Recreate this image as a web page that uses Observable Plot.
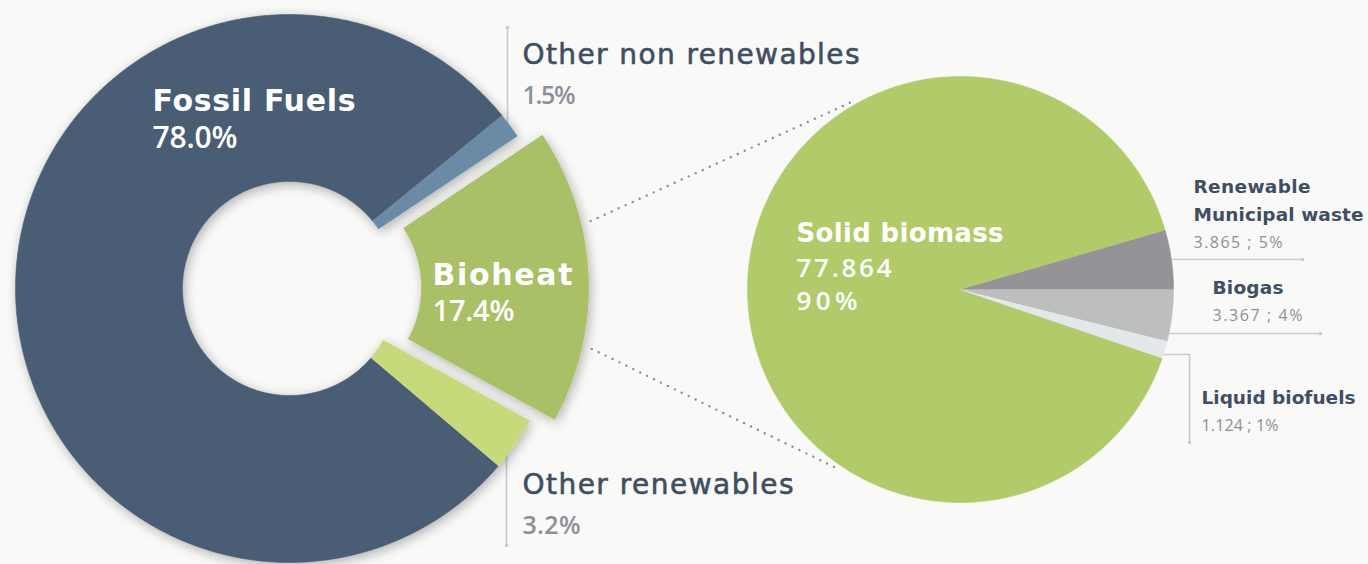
<!DOCTYPE html>
<html>
<head>
<meta charset="utf-8">
<script src="https://cdn.jsdelivr.net/npm/d3@7"></script>
<script src="https://cdn.jsdelivr.net/npm/@observablehq/plot@0.6"></script>
<style>
  html, body { margin: 0; padding: 0; background: #f9f9f7; }
  #chart { width: 1368px; height: 564px; overflow: hidden; }
</style>
</head>
<body>
<div id="chart"></div>
<script>
// ---------------- data ----------------
const donutCategories = ["Fossil Fuels", "Other non renewables", "Bioheat", "Other renewables"];
const donutShares = [78.0, 1.5, 17.4, 3.2];
const donutShareLabels = ["78.0%", "1.5%", "17.4%", "3.2%"];

const bioCategories = ["Solid biomass", "Renewable Municipal waste", "Biogas", "Liquid biofuels"];
const bioValues = [77.864, 3.865, 3.367, 1.124];
const bioValueLabels = ["77.864", "3.865", "3.367", "1.124"];
const bioShareLabels = ["90%", "5%", "4%", "1%"];

// ---------------- style / layout ----------------
const W = 1368, H = 564;
const NAME_FONT = "DejaVu Sans";
const NUM_FONT = "Open Sans";
const donutColors = ["#4a5d75", "#6b8aa6", "#a9c066", "#c6da7c"];
const bioColors = ["#b1cb6b", "#939398", "#bdbfbf", "#e3e7e9"];
const darkText = "#3f4e61", grayText = "#8c9199", leaderColor = "#c9cbce";

const donut = {cx: 289, cy: 288, r0: 107, r1: 274, explodeIndex: 2, explode: 25, focusDeg: 87.5};
const pie = {cx: 960, cy: 289, r: 213, splitDeg: 90}; // boundary between slices 1 and 2 at 3 o'clock

const rad = d => d * Math.PI / 180;
function arcPolygon(cx, cy, r0, r1, a0, a1) {
  const pts = [];
  const n = Math.max(2, Math.ceil(Math.abs(a1 - a0) * 180 / Math.PI) * 2);
  for (let i = 0; i <= n; i++) {
    const a = a0 + (a1 - a0) * i / n;
    pts.push([cx + r1 * Math.sin(a), cy - r1 * Math.cos(a)]);
  }
  if (r0 > 0) {
    for (let i = n; i >= 0; i--) {
      const a = a0 + (a1 - a0) * i / n;
      pts.push([cx + r0 * Math.sin(a), cy - r0 * Math.cos(a)]);
    }
  } else pts.push([cx, cy]);
  return pts;
}

// Donut angles: exploded slice centred on focus direction
const donutTotal = d3.sum(donutShares);
const before = d3.sum(donutShares.slice(0, donut.explodeIndex)) + donutShares[donut.explodeIndex] / 2;
const donutStart = rad(donut.focusDeg) - before / donutTotal * 2 * Math.PI;
const donutArcs = d3.pie().sort(null).startAngle(donutStart).endAngle(donutStart + 2 * Math.PI)(donutShares);

// Pie angles
const bioTotal = d3.sum(bioValues);
const pieStart = rad(pie.splitDeg) - (bioValues[0] + bioValues[1]) / bioTotal * 2 * Math.PI;
const bioArcs = d3.pie().sort(null).startAngle(pieStart).endAngle(pieStart + 2 * Math.PI)(bioValues);

// exploded bioheat centre
const ea = donutArcs[donut.explodeIndex];
const em = (ea.startAngle + ea.endAngle) / 2;
const bx = donut.cx + donut.explode * Math.sin(em), by = donut.cy - donut.explode * Math.cos(em);

const donutMarks = donutArcs.map((a, i) => {
  const ox = i === donut.explodeIndex ? bx : donut.cx;
  const oy = i === donut.explodeIndex ? by : donut.cy;
  return Plot.line(arcPolygon(ox, oy, donut.r0, donut.r1, a.startAngle, a.endAngle), {
    fill: donutColors[i], stroke: donutColors[i], strokeWidth: 0.6
  });
});
const pieMarks = bioArcs.map((a, i) =>
  Plot.line(arcPolygon(pie.cx, pie.cy, 0, pie.r, a.startAngle, a.endAngle), {
    fill: bioColors[i], stroke: bioColors[i], strokeWidth: 0.6
  })
);

// connectors from the bioheat slice to the detail pie
const polar = (cx, cy, r, deg) => [cx + r * Math.sin(rad(deg)), cy - r * Math.cos(rad(deg))];
const connectors = [
  [polar(bx, by, donut.r1 + 10, 76.5), polar(pie.cx, pie.cy, pie.r + 4, 329.4)],
  [polar(bx, by, donut.r1 + 10, 102.5), polar(pie.cx, pie.cy, pie.r + 4, 214)]
];

// leader lines
const leaders = [
  [[507, 27], [507, 140]],
  [[506, 440], [506, 545]],
  [[1150, 259], [1302, 259]],
  [[1150, 333], [1320, 333]],
  [[1150, 354], [1189, 354], [1189, 442]]
];
const leaderEnds = [[507, 27], [506, 545], [1302, 259], [1320, 333], [1189, 442]];

// label rows: text from data arrays, positions from layout
const labels = [
  {t: donutCategories[0], x: 152, y: 110, s: 30, w: 700, f: "#ffffff", ff: NAME_FONT, len: 203},
  {t: donutShareLabels[0], x: 152, y: 147, s: 30, w: 600, f: "#ffffff", ff: NUM_FONT, len: 85},
  {t: donutCategories[2], x: 432, y: 284, s: 30, w: 700, f: "#ffffff", ff: NAME_FONT, len: 140},
  {t: donutShareLabels[2], x: 432, y: 320, s: 29, w: 600, f: "#ffffff", ff: NUM_FONT, len: 82},
  {t: donutCategories[1], x: 522, y: 63, s: 28, w: 400, f: darkText, ff: NAME_FONT, len: 337, sw: 0.6},
  {t: donutShareLabels[1], x: 522, y: 103, s: 25, w: 600, f: grayText, ff: NUM_FONT, len: 53},
  {t: donutCategories[3], x: 522, y: 493, s: 28, w: 400, f: darkText, ff: NAME_FONT, len: 271, sw: 0.6},
  {t: donutShareLabels[3], x: 522, y: 533, s: 25, w: 600, f: grayText, ff: NUM_FONT, len: 58},
  {t: bioCategories[0], x: 796, y: 241, s: 26, w: 700, f: "#ffffff", ff: NAME_FONT, len: 207},
  {t: bioValueLabels[0], x: 796, y: 276, s: 26, w: 600, f: "#ffffff", ff: NUM_FONT, len: 95},
  {t: bioShareLabels[0], x: 796, y: 309, s: 26, w: 600, f: "#ffffff", ff: NUM_FONT, len: 61},
  {t: bioCategories[1].split(" ")[0], x: 1193, y: 192, s: 18.5, w: 700, f: darkText, ff: NAME_FONT, len: 117},
  {t: bioCategories[1].split(" ").slice(1).join(" "), x: 1193, y: 220, s: 18.5, w: 700, f: darkText, ff: NAME_FONT, len: 170},
  {t: `${bioValueLabels[1]} ; ${bioShareLabels[1]}`, x: 1193, y: 247, s: 16, w: 500, f: grayText, ff: NUM_FONT, len: 89},
  {t: bioCategories[2], x: 1212, y: 293, s: 18.5, w: 700, f: darkText, ff: NAME_FONT, len: 71},
  {t: `${bioValueLabels[2]} ; ${bioShareLabels[2]}`, x: 1212, y: 320, s: 16, w: 500, f: grayText, ff: NUM_FONT, len: 90},
  {t: bioCategories[3], x: 1201, y: 403, s: 18.5, w: 700, f: darkText, ff: NAME_FONT, len: 154},
  {t: `${bioValueLabels[3]} ; ${bioShareLabels[3]}`, x: 1201, y: 430, s: 16, w: 500, f: grayText, ff: NUM_FONT, len: 77}
];
const textMarks = labels.map(d => Plot.text([d], {
  x: "x", y: "y", text: "t", fontSize: d.s, fontWeight: d.w, fill: d.f,
  stroke: d.sw ? d.f : null, strokeWidth: d.sw || 0,
  fontFamily: d.ff, textAnchor: "start", lineAnchor: "bottom"
}));

const plot = Plot.plot({
  width: W, height: H, margin: 0,
  x: {domain: [0, W], range: [0, W], axis: null},
  y: {domain: [0, H], range: [0, H], axis: null},
  style: {background: "#f9f9f7", overflow: "hidden"},
  marks: [
    ...leaders.map(l => Plot.line(l, {stroke: leaderColor, strokeWidth: 1.6})),
    Plot.dot(leaderEnds, {r: 1.8, fill: leaderColor, stroke: null}),
    ...connectors.map(c => Plot.line(c, {stroke: "#8d8d8d", strokeWidth: 2.4, strokeDasharray: "0 7.7", strokeLinecap: "round"})),
    ...donutMarks,
    ...pieMarks,
    ...textMarks
  ]
});
document.getElementById("chart").appendChild(plot);

const svg = d3.select(plot);
// fit label widths to the reference
svg.selectAll("text").each(function () {
  const lab = labels.find(d => d.t === this.textContent);
  if (lab) { this.setAttribute("textLength", lab.len); this.setAttribute("lengthAdjust", "spacing"); }
});
// soft shadow under the donut
try {
  const NS = "http://www.w3.org/2000/svg";
  const defs = document.createElementNS(NS, "defs");
  defs.innerHTML = '<filter id="dsh" x="-30%" y="-30%" width="160%" height="160%">' +
    '<feGaussianBlur in="SourceAlpha" stdDeviation="6"/>' +
    '<feOffset dx="2" dy="3" result="b"/>' +
    '<feComponentTransfer><feFuncA type="linear" slope="0.3"/></feComponentTransfer>' +
    '<feMerge><feMergeNode/><feMergeNode in="SourceGraphic"/></feMerge></filter>';
  plot.insertBefore(defs, plot.firstChild);
  const lc = donutColors.map(c => c.toLowerCase());
  const groups = [];
  plot.querySelectorAll("path").forEach(p => {
    const g = p.parentNode;
    const f = (g.getAttribute("fill") || p.getAttribute("fill") || "").toLowerCase();
    if (lc.includes(f) && !groups.includes(g)) groups.push(g);
  });
  if (groups.length) {
    const wrap = document.createElementNS(NS, "g");
    wrap.setAttribute("filter", "url(#dsh)");
    groups[0].parentNode.insertBefore(wrap, groups[0]);
    groups.forEach(g => wrap.appendChild(g));
  }
} catch (e) { console.error(e); }
</script>
</body>
</html>
